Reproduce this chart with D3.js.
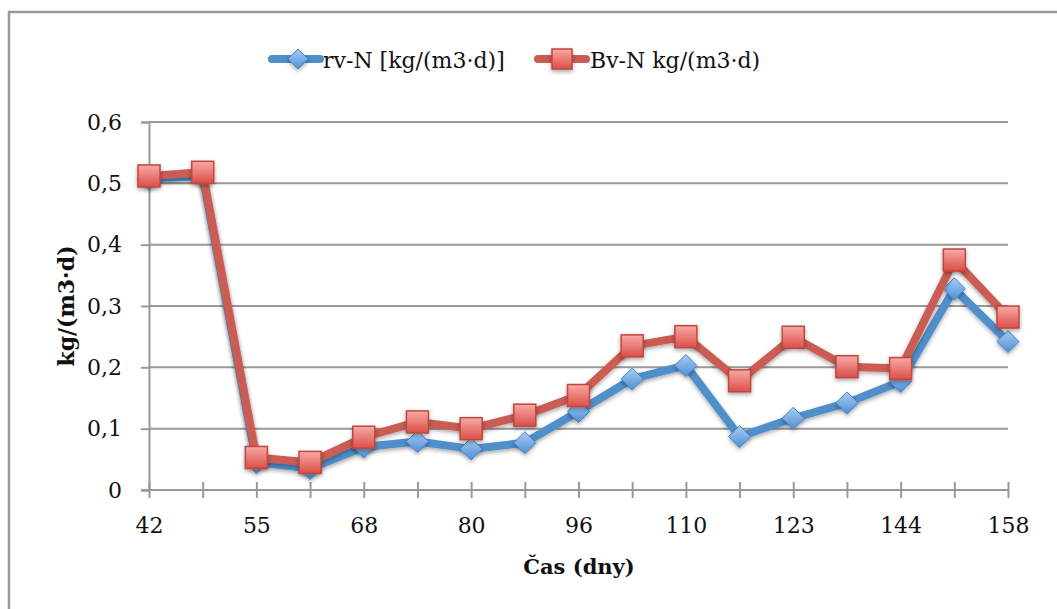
<!DOCTYPE html>
<html>
<head>
<meta charset="utf-8">
<script src="https://cdn.jsdelivr.net/npm/d3@7.9.0/dist/d3.min.js"></script>
<style>
  body { margin: 0; background: #fff; }
  svg { display: block; }
  text { font-family: "DejaVu Serif", serif; fill: #111; }
</style>
</head>
<body>
<svg id="chart" width="1057" height="609"></svg>
<script>
// days of measurement (every second label is shown on the axis)
const days = ["42", "48", "55", "62", "68", "74", "80", "88", "96", "103", "110", "117", "123", "137", "144", "151", "158"];
const rvN = [0.508, 0.512, 0.045, 0.035, 0.07, 0.079, 0.067, 0.077, 0.128, 0.181, 0.203, 0.087, 0.117, 0.142, 0.177, 0.328, 0.242];
const bvN = [0.512, 0.518, 0.053, 0.045, 0.086, 0.111, 0.1, 0.122, 0.154, 0.235, 0.25, 0.178, 0.249, 0.201, 0.198, 0.375, 0.282];
const yTicks = [0, 0.1, 0.2, 0.3, 0.4, 0.5, 0.6];
const seriesNames = ["rv-N [kg/(m3·d)]", "Bv-N kg/(m3·d)"];

const FONT = "DejaVu Serif";
const TICK_FS = 22;
const LEGEND_FS = 22;

const svg = d3.select("#chart");
const margin = { left: 149, right: 1008, top: 122, bottom: 490 };

const x = d3.scalePoint().domain(days).range([margin.left, margin.right]);
const y = d3.scaleLinear().domain([0, 0.6]).range([margin.bottom, margin.top]);
const fmt = (d) => d3.format(".1~f")(d).replace(".", ",");

const defs = svg.append("defs");
const blueGrad = defs.append("linearGradient").attr("id", "blueGrad")
  .attr("x1", 0).attr("y1", 0).attr("x2", 0).attr("y2", 1);
blueGrad.append("stop").attr("offset", "0%").attr("stop-color", "#a9cdf3");
blueGrad.append("stop").attr("offset", "100%").attr("stop-color", "#4e8fd6");
const redGrad = defs.append("linearGradient").attr("id", "redGrad")
  .attr("x1", 0).attr("y1", 0).attr("x2", 0).attr("y2", 1);
redGrad.append("stop").attr("offset", "0%").attr("stop-color", "#f7aaa5");
redGrad.append("stop").attr("offset", "100%").attr("stop-color", "#dc4e47");
const shadow = defs.append("filter").attr("id", "shadow")
  .attr("x", "-30%").attr("y", "-30%").attr("width", "160%").attr("height", "160%");
shadow.append("feDropShadow").attr("dx", 0).attr("dy", 2).attr("stdDeviation", 2)
  .attr("flood-color", "#000").attr("flood-opacity", 0.35);

// chart frame
svg.append("path")
  .attr("d", "M9,609 V12 H1057")
  .attr("fill", "none").attr("stroke", "#999").attr("stroke-width", 2.5);

// horizontal grid lines
svg.append("g").selectAll("line").data(yTicks.slice(1)).join("line")
  .attr("x1", margin.left).attr("x2", margin.right)
  .attr("y1", (d) => y(d)).attr("y2", (d) => y(d))
  .attr("stroke", "#999").attr("stroke-width", 2);

// y axis
const yAxis = svg.append("g").attr("transform", `translate(${margin.left},0)`)
  .call(d3.axisLeft(y).tickValues(yTicks).tickFormat(fmt).tickSize(8).tickPadding(19));
yAxis.select(".domain").attr("stroke", "#999").attr("stroke-width", 2);
yAxis.selectAll(".tick line").attr("stroke", "#999").attr("stroke-width", 2);
yAxis.selectAll("text").attr("font-size", TICK_FS).attr("font-family", FONT).attr("fill", "#111");

// x axis
const xAxis = svg.append("g").attr("transform", `translate(0,${margin.bottom})`)
  .call(d3.axisBottom(x).tickSizeInner(8).tickSizeOuter(0).tickPadding(19)
    .tickFormat((d, i) => (i % 2 === 0 ? d : "")));
xAxis.select(".domain").attr("stroke", "#999").attr("stroke-width", 2)
  .attr("d", `M${margin.left - 8},0H${margin.right}`);
xAxis.selectAll(".tick line").attr("stroke", "#999").attr("stroke-width", 2).attr("y1", -8);
xAxis.selectAll("text").attr("font-size", TICK_FS).attr("font-family", FONT).attr("fill", "#111");

// axis titles
svg.append("text").attr("x", 579).attr("y", 574).attr("text-anchor", "middle")
  .attr("font-size", 21).attr("font-weight", "bold").text("Čas (dny)");
svg.append("text").attr("transform", "translate(74,306) rotate(-90)")
  .attr("text-anchor", "middle").attr("font-size", 22).attr("font-weight", "bold")
  .text("kg/(m3·d)");

const line = d3.line().x((d, i) => x(days[i])).y((d) => y(d));

function diamond(g, s) {
  g.append("path").attr("d", `M0,${-s}L${s},0L0,${s}L${-s},0Z`)
    .attr("fill", "url(#blueGrad)").attr("stroke", "#4a86c5").attr("stroke-width", 1)
    .attr("filter", "url(#shadow)");
}
function square(g, s) {
  g.append("rect").attr("x", -s).attr("y", -s).attr("width", 2 * s).attr("height", 2 * s)
    .attr("fill", "url(#redGrad)").attr("stroke", "#c0463f").attr("stroke-width", 1.5)
    .attr("filter", "url(#shadow)");
}

// rv-N series
svg.append("path").datum(rvN).attr("d", line)
  .attr("fill", "none").attr("stroke", "#4f8fca").attr("stroke-width", 8)
  .attr("stroke-linejoin", "round").attr("filter", "url(#shadow)");
svg.append("g").selectAll("g").data(rvN).join("g")
  .attr("transform", (d, i) => `translate(${x(days[i])},${y(d)})`)
  .each(function () { diamond(d3.select(this), 11); });

// Bv-N series
svg.append("path").datum(bvN).attr("d", line)
  .attr("fill", "none").attr("stroke", "#cb5c53").attr("stroke-width", 8)
  .attr("stroke-linejoin", "round").attr("filter", "url(#shadow)");
svg.append("g").selectAll("g").data(bvN).join("g")
  .attr("transform", (d, i) => `translate(${x(days[i])},${y(d)})`)
  .each(function () { square(d3.select(this), 11); });

// legend
const legend = svg.append("g");
const lg1 = legend.append("g");
lg1.append("line").attr("x1", 272).attr("x2", 320).attr("y1", 59).attr("y2", 59)
  .attr("stroke", "#4f8fca").attr("stroke-width", 8).attr("stroke-linecap", "round");
diamond(lg1.append("g").attr("transform", "translate(298,59)"), 10);
lg1.append("text").attr("x", 323).attr("y", 68).attr("font-size", LEGEND_FS).text(seriesNames[0]);

const lg2 = legend.append("g");
lg2.append("line").attr("x1", 538).attr("x2", 586).attr("y1", 59).attr("y2", 59)
  .attr("stroke", "#cb5c53").attr("stroke-width", 8).attr("stroke-linecap", "round");
square(lg2.append("g").attr("transform", "translate(562,59)"), 10);
lg2.append("text").attr("x", 590).attr("y", 68).attr("font-size", LEGEND_FS).text(seriesNames[1]);
</script>
</body>
</html>
